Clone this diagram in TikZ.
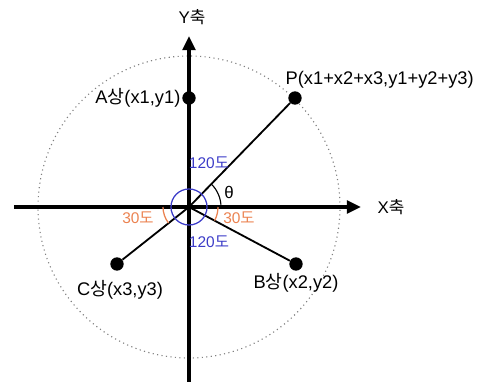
\documentclass[tikz,border=0pt]{standalone}
\usepackage{fontspec}
\setmainfont{Liberation Sans}
\newfontfamily\krfont{Noto Sans CJK KR}
\newcommand{\ko}[1]{{\krfont #1}}
\usetikzlibrary{arrows.meta, positioning}
\definecolor{angleblue}{RGB}{60,60,200}
\definecolor{angleorange}{RGB}{235,130,80}
\tikzset{
	axisline/.style={line width=2.6pt, -{Triangle[length=10pt,width=9pt]}},
	phaseline/.style={line width=1.3pt},
	phasedot/.style={circle, fill=black, minimum size=9.5pt, inner sep=0pt}
}
\tikzset{
	labeltext/.style={font=\fontsize{13}{15}\selectfont, inner sep=1pt},
	angletext/.style={font=\fontsize{11}{13}\selectfont, inner sep=0pt}
}

\begin{document}
\begin{tikzpicture}[x=0.025cm, y=0.025cm]

              \useasboundingbox (-189,-175) rectangle (292,207);

              \coordinate (o) at (0,0);
              \coordinate (xl) at (-175,0);
              \coordinate (xr) at (172,0);
              \coordinate (yb) at (0,-175);
              \coordinate (yt) at (0,171);

              % dotted circle
              \draw[gray, line width=0.8pt, dash pattern=on 0.8pt off 2.4pt] (o) circle (151);

              \draw[axisline] (xl) -- (xr);
              \draw[axisline] (yb) -- (yt);

              \node[font=\fontsize{12}{14}\selectfont] (xlabel) at (202,0) {X\ko{축}};
              \node[font=\fontsize{12}{14}\selectfont] (ylabel) at (3,190) {Y\ko{축}};

              \node[phasedot] (a) at (0,109) {};
              \node[phasedot] (p) at (106,109) {};
              \node[phasedot] (b) at (107,-57) {};
              \node[phasedot] (c) at (-72,-57) {};

              \draw[phaseline] (o) -- (p);
              \draw[phaseline] (o) -- (b);
              \draw[phaseline] (o) -- (c);

              \node[labeltext, left=0pt of a] (alabel) {A\ko{상}(x1,y1)};
              \node[labeltext, anchor=west] (plabel) at (95,127) {P(x1+x2+x3,y1+y2+y3)};
              \node[labeltext] (blabel) at (107,-76) {B\ko{상}(x2,y2)};
              \node[labeltext] (clabel) at (-69,-83) {C\ko{상}(x3,y3)};

              % angles
              \draw[angleblue, line width=0.9pt] (o) circle (18);
              \draw[line width=0.8pt] (o) ++(0:32) arc[start angle=0, end angle=46, radius=32];
              \draw[angleorange, line width=0.9pt] (o) ++(180:26) arc[start angle=180, end angle=218, radius=26];
              \draw[angleorange, line width=0.9pt] (o) ++(0:29) arc[start angle=0, end angle=-28, radius=29];

              \node[angletext, text=angleblue] (up120) at (20,44) {120\ko{도}};
              \node[angletext, text=angleblue] (lo120) at (20,-35) {120\ko{도}};
              \node[angletext, text=angleorange] (l30) at (-51,-11) {30\ko{도}};
              \node[angletext, text=angleorange] (r30) at (50,-11) {30\ko{도}};
              \node[angletext, font=\fontsize{12}{14}\selectfont] (theta) at (40,15) {θ};

\end{tikzpicture}
\end{document}
